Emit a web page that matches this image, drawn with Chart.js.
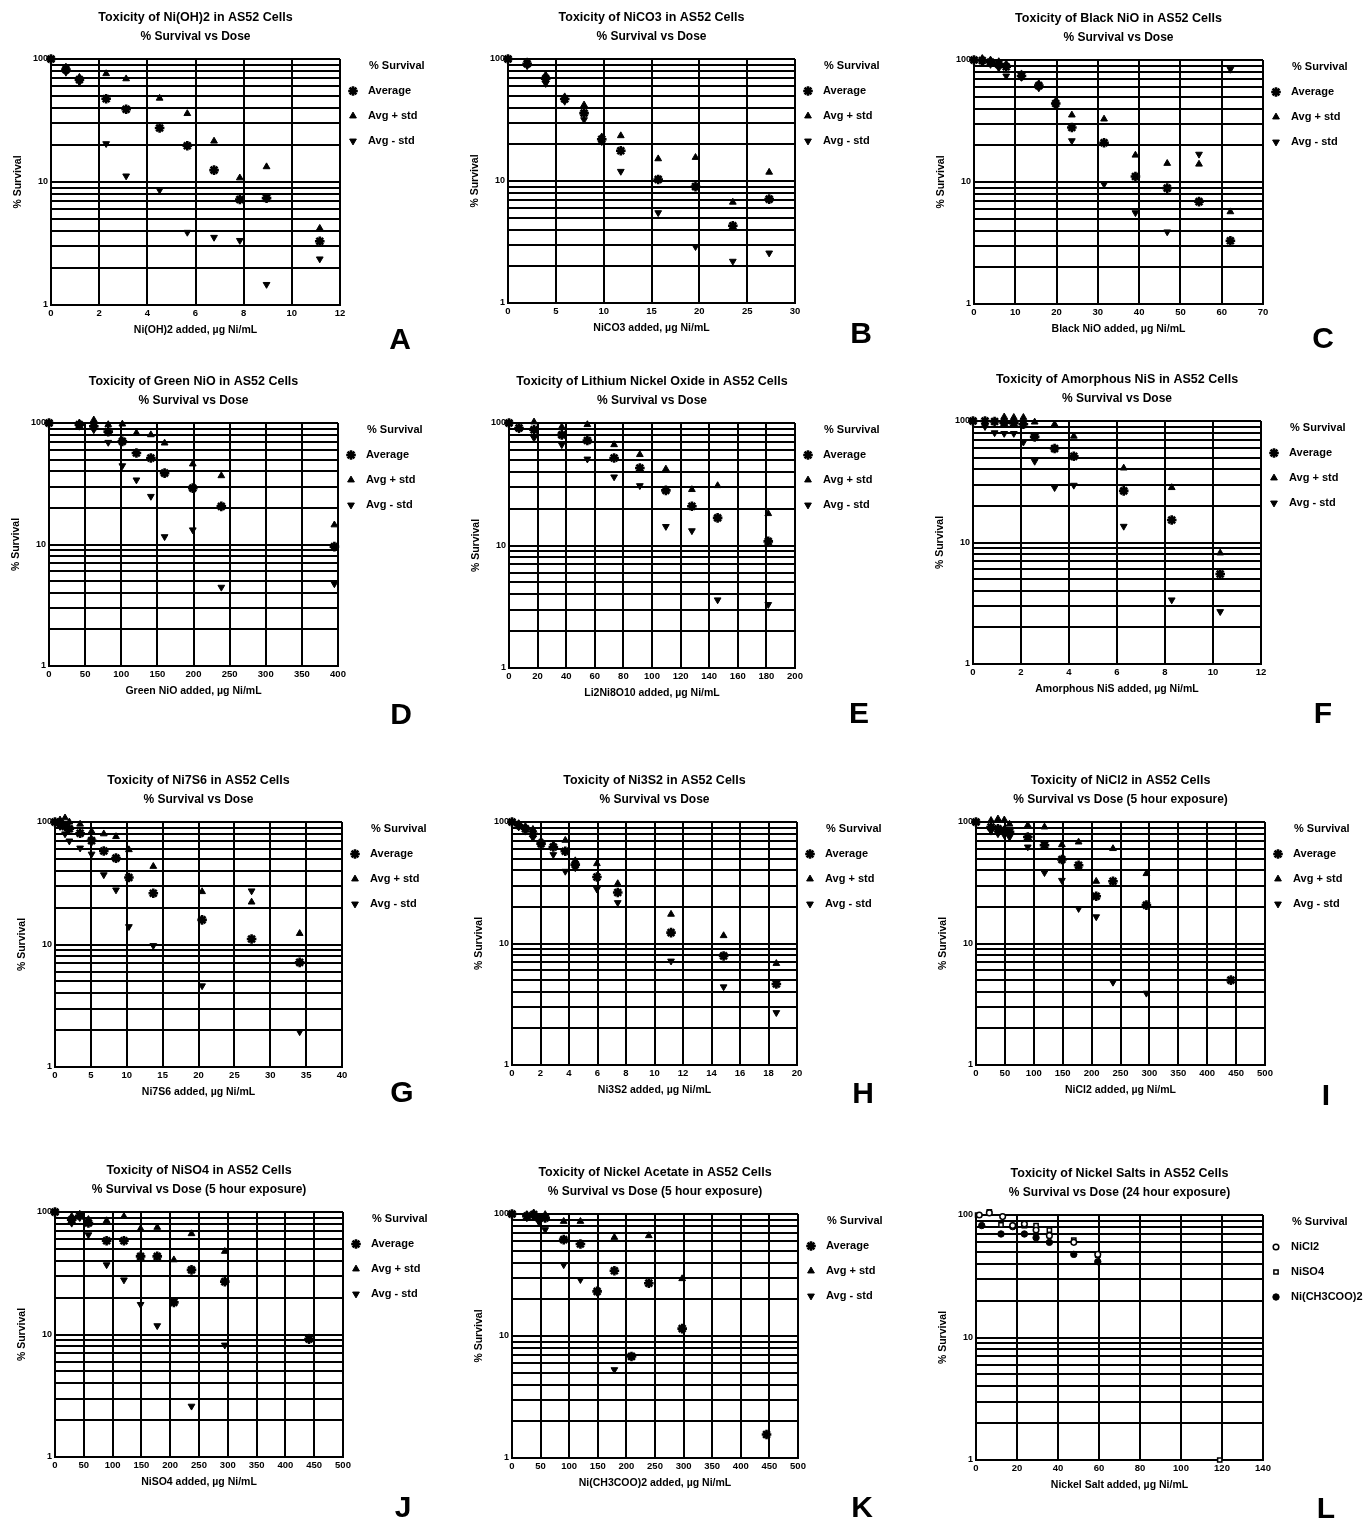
<!DOCTYPE html>
<html>
<head>
<meta charset="utf-8">
<title>Toxicity of nickel compounds in AS52 cells</title>
<script src="https://cdn.jsdelivr.net/npm/chart.js@4.4.1/dist/chart.umd.min.js"></script>
<style>
  html, body { margin: 0; padding: 0; background: #fff; }
  #page { position: relative; width: 1363px; height: 1523px; overflow: hidden; background: #fff; }
  #page canvas { position: absolute; }
  .tag { position: absolute; font: bold 30px 'Liberation Sans', Arial, sans-serif; line-height: 1;
         transform: translate(-50%, -50%); color: #000; }
</style>
</head>
<body>
<div id="page"></div>
<script>
// ---------- values ----------
const yTickLabels = [1, 10, 100];
const yGridValues = [1, 2, 3, 4, 5, 6, 7, 8, 9, 10, 20, 30, 40, 50, 60, 70, 80, 90, 100];
const xTickMax  = [12, 30, 70, 400, 200, 12, 40, 20, 500, 500, 500, 140];
const xTickStep = [2, 5, 10, 50, 20, 2, 5, 2, 50, 50, 50, 20];

// A: Ni(OH)2
const doseA = [0, 0.62, 1.18, 2.29, 3.12, 4.51, 5.66, 6.77, 7.84, 8.95, 11.16];
const avgA  = [100, 82, 68, 47.5, 39, 27.5, 19.7, 12.5, 7.2, 7.4, 3.3];
const hiA   = [100, 86, 71, 76, 69, 48, 36, 21.5, 10.8, 13.3, 4.2];
const loA   = [100, 78, 65, 20.5, 11.2, 8.6, 3.9, 3.55, 3.35, 1.47, 2.37];

// B: NiCO3
const doseB = [0, 2.0, 3.94, 5.93, 7.95, 9.8, 11.79, 15.7, 19.6, 23.5, 27.3];
const avgB  = [100, 91.5, 69, 47, 36, 22, 17.7, 10.3, 9.0, 4.3, 7.1];
const hiB   = [100, 95, 74, 49, 42, 23, 23.5, 15.2, 15.6, 6.7, 11.8];
const loB   = [100, 88, 63, 45, 31.8, 21, 12, 5.5, 2.9, 2.2, 2.57];

// C: black NiO
const doseC = [0, 2, 4, 6, 7.8, 11.5, 15.7, 19.8, 23.7, 31.5, 39.1, 46.8, 54.5, 62.1];
const avgC  = [100, 99, 96, 92, 88, 74, 61.6, 44, 28, 21, 11.1, 8.9, 6.9, 3.3];
const hiC   = [100, 103, 100, 97, 93, 77, 64, 46, 35.4, 32.8, 16.6, 14.2, 14, 5.7];
const loC   = [100, 95, 92, 86, 74, 72, 59, 42, 21.8, 9.6, 5.6, 3.9, 16.9, 83.9];

// D: green NiO
const doseD = [0, 42, 62, 82, 101.5, 121, 141, 160, 199, 238.5, 395];
const avgD  = [100, 97, 94, 85, 70.6, 56.6, 51.5, 38.7, 29.1, 20.6, 9.6];
const hiD   = [100, 100, 106, 97, 98, 82.7, 80, 68.4, 46, 36.8, 14.5];
const loD   = [100, 94, 88, 69.3, 44.5, 34, 24.9, 11.6, 13.2, 4.45, 4.75];

// E: lithium nickel oxide
const doseE = [0, 7, 17.5, 36.9, 54.8, 73.5, 91.5, 109.7, 127.9, 145.9, 181.3];
const avgE  = [100, 91, 88, 80, 72, 51.8, 42.9, 28.2, 20.9, 16.8, 10.8];
const hiE   = [100, 93, 102, 93, 97, 66.5, 55.2, 42.1, 28.6, 30.8, 18.2];
const loE   = [100, 89, 75.5, 66.5, 50.8, 36.3, 30.8, 14.3, 13.2, 3.6, 3.3];

// F: amorphous NiS
const doseF = [0, 0.5, 0.9, 1.3, 1.7, 2.1, 2.57, 3.4, 4.2, 6.28, 8.28, 10.3];
const avgF  = [100, 100, 99, 97, 96, 94, 74, 59.3, 51.2, 26.6, 15.3, 5.5];
const hiF   = [100, 112, 110, 108, 107, 107, 98, 94, 75, 41, 28.3, 8.2];
const loF   = [100, 90, 80, 79, 79, 67, 46.6, 28.3, 29.6, 13.6, 3.37, 2.7];

// G: Ni7S6
const doseG = [0, 0.7, 1.4, 2, 3.5, 5.1, 6.8, 8.5, 10.3, 13.7, 20.5, 27.4, 34.1];
const avgG  = [100, 98, 92, 88, 81, 70.4, 58, 50.7, 35.2, 26.2, 15.9, 11.1, 7.15];
const hiG   = [100, 104, 108, 100, 96, 84, 80, 76, 59.4, 43.4, 27, 22.2, 12.3];
const loG   = [100, 92, 80, 70, 61.3, 54.7, 37.1, 27.9, 14, 9.8, 4.6, 27.4, 1.94];

// H: Ni3S2
const doseH = [0, 0.47, 0.94, 1.47, 2.04, 2.9, 3.74, 4.44, 5.96, 7.42, 11.16, 14.85, 18.55];
const avgH  = [100, 94, 88, 80, 66.4, 62.3, 57.4, 44.6, 35.3, 26.3, 12.3, 7.9, 4.64];
const hiH   = [100, 97, 92, 87, 70, 65, 70.7, 48, 45.4, 31.1, 17.4, 11.6, 6.85];
const loH   = [100, 91, 84, 74, 64, 53.9, 39.3, 42, 28, 21.7, 7.17, 4.4, 2.7];

// I: NiCl2, 5 h
const doseI = [0, 26, 38, 49, 58, 89.6, 118.5, 148.6, 177.5, 208, 237, 294.8, 441];
const avgI  = [100, 91, 88, 85, 83, 75.3, 64.3, 49.1, 44, 24.5, 32.5, 20.7, 5.0];
const hiI   = [100, 103, 106, 104, 96, 94, 91, 65, 68.4, 32.5, 60.4, 37.6, null];
const loI   = [100, 84, 80, 78, 75, 62.3, 38.3, 33.1, 19.4, 16.6, 4.8, 3.9, null];

// J: NiSO4, 5 h
const doseJ = [0, 29, 43, 58, 89.6, 119.7, 148.6, 177.5, 206.4, 237, 294.8, 441];
const avgJ  = [100, 86.5, 93.3, 81.3, 58.2, 58.2, 43.4, 43.4, 18.3, 33.7, 27, 9.2];
const hiJ   = [100, 92, 96, 87, 84.9, 92, 73, 74.9, 40.7, 66.5, 47.7, 9.4];
const loJ   = [100, 81, 90, 65.2, 37.1, 27.9, 17.6, 11.8, null, 2.6, 8.2, 9.0];

// K: nickel acetate, 5 h
const doseK = [0, 26, 38, 47, 58, 90.4, 119.6, 148.8, 179, 208.9, 239.2, 297.5, 445];
const avgK  = [100, 96, 99, 93, 93, 61.6, 56.8, 23.2, 34.3, 6.8, 27.1, 11.5, 1.56];
const hiK   = [100, 99, 102, 112, 99, 87, 87, null, 64.3, null, 66.4, 29.5, null];
const loK   = [100, 93, 95, 86, 74.4, 38.4, 29, null, 5.3, null, null, null, null];

// L: nickel salts, 24 h
const doseL_NiCl2 = [1.6, 6.5, 13, 17.9, 23.6, 29.3, 35.8, 47.7, 59.4];
const survL_NiCl2 = [100, 104, 97, 82, 84.5, 75.4, 67.8, 59.8, 47.7];
const doseL_NiSO4 = [0.8, 6.5, 12.2, 17.9, 23.6, 29.3, 35.8, 47.7, 59.4, 118.9];
const survL_NiSO4 = [100, 106, 83, 82, 82, 82, 75.4, 62.5, 47, 1.0];
const doseL_NiAc  = [2.8, 12.2, 17.9, 23.6, 29.3, 35.8, 47.7, 59.4];
const survL_NiAc  = [82, 70, 80.3, 70, 65.3, 59.8, 47.7, 41.6];

// ---------- page layout (plot rectangles and panel letters) ----------
const FONT = "'Liberation Sans Narrow', 'Liberation Sans', Arial, sans-serif";
const AXIS_W = 46, TOP_H = 59, AXIS_H = 40, RIGHT_PAD = 100;
const frames = [
  { L: 51,  R: 340,  T: 59,   B: 305,  tag: [400, 339] },
  { L: 508, R: 795,  T: 59,   B: 303,  tag: [861, 333] },
  { L: 974, R: 1263, T: 60,   B: 304,  tag: [1323, 338] },
  { L: 49,  R: 338,  T: 423,  B: 666,  tag: [401, 714] },
  { L: 509, R: 795,  T: 423,  B: 668,  tag: [859, 713] },
  { L: 973, R: 1261, T: 421,  B: 664,  tag: [1323, 713] },
  { L: 55,  R: 342,  T: 822,  B: 1067, tag: [402, 1092] },
  { L: 512, R: 797,  T: 822,  B: 1065, tag: [863, 1093] },
  { L: 976, R: 1265, T: 822,  B: 1065, tag: [1326, 1095] },
  { L: 55,  R: 343,  T: 1212, B: 1457, tag: [403, 1507] },
  { L: 512, R: 798,  T: 1214, B: 1458, tag: [862, 1507] },
  { L: 976, R: 1263, T: 1215, B: 1460, tag: [1326, 1508] }
];

// ---------- marker styles ----------
const avgStyle = { label: 'Average', pointStyle: 'star', pointRadius: 4.8, pointRotation: 0,
  pointBorderWidth: 2.6, pointBackgroundColor: '#000', pointBorderColor: '#000' };
const hiStyle = { label: 'Avg + std', pointStyle: 'triangle', pointRadius: 3.9, pointRotation: 0,
  pointBorderWidth: 1, pointBackgroundColor: '#000', pointBorderColor: '#000' };
const loStyle = { label: 'Avg - std', pointStyle: 'triangle', pointRadius: 3.9, pointRotation: 180,
  pointBorderWidth: 1, pointBackgroundColor: '#000', pointBorderColor: '#000' };

function pts(xs, ys) {
  const out = [];
  xs.forEach((x, i) => { if (ys[i] != null) out.push({ x: x, y: ys[i] }); });
  return out;
}
function triple(dose, avg, hi, lo) {
  return [
    Object.assign({ data: pts(dose, avg) }, avgStyle),
    Object.assign({ data: pts(dose, hi) }, hiStyle),
    Object.assign({ data: pts(dose, lo) }, loStyle)
  ];
}

const SUB = '% Survival vs Dose';
const SUB5 = '% Survival vs Dose (5 hour exposure)';
const panels = [
  { letter: 'A', title: 'Toxicity of Ni(OH)2 in AS52 Cells', sub: SUB, xTitle: 'Ni(OH)2 added, µg Ni/mL', datasets: triple(doseA, avgA, hiA, loA) },
  { letter: 'B', title: 'Toxicity of NiCO3 in AS52 Cells', sub: SUB, xTitle: 'NiCO3 added, µg Ni/mL', datasets: triple(doseB, avgB, hiB, loB) },
  { letter: 'C', title: 'Toxicity of Black NiO in AS52 Cells', sub: SUB, xTitle: 'Black NiO added, µg Ni/mL', datasets: triple(doseC, avgC, hiC, loC) },
  { letter: 'D', title: 'Toxicity of Green NiO in AS52 Cells', sub: SUB, xTitle: 'Green NiO added, µg Ni/mL', datasets: triple(doseD, avgD, hiD, loD) },
  { letter: 'E', title: 'Toxicity of Lithium Nickel Oxide in AS52 Cells', sub: SUB, xTitle: 'Li2Ni8O10 added, µg Ni/mL', datasets: triple(doseE, avgE, hiE, loE) },
  { letter: 'F', title: 'Toxicity of Amorphous NiS in AS52 Cells', sub: SUB, xTitle: 'Amorphous NiS added, µg Ni/mL', datasets: triple(doseF, avgF, hiF, loF) },
  { letter: 'G', title: 'Toxicity of Ni7S6 in AS52 Cells', sub: SUB, xTitle: 'Ni7S6 added, µg Ni/mL', datasets: triple(doseG, avgG, hiG, loG) },
  { letter: 'H', title: 'Toxicity of Ni3S2 in AS52 Cells', sub: SUB, xTitle: 'Ni3S2 added, µg Ni/mL', datasets: triple(doseH, avgH, hiH, loH) },
  { letter: 'I', title: 'Toxicity of NiCl2 in AS52 Cells', sub: SUB5, xTitle: 'NiCl2 added, µg Ni/mL', datasets: triple(doseI, avgI, hiI, loI) },
  { letter: 'J', title: 'Toxicity of NiSO4 in AS52 Cells', sub: SUB5, xTitle: 'NiSO4 added, µg Ni/mL', datasets: triple(doseJ, avgJ, hiJ, loJ) },
  { letter: 'K', title: 'Toxicity of Nickel Acetate in AS52 Cells', sub: SUB5, xTitle: 'Ni(CH3COO)2 added, µg Ni/mL', datasets: triple(doseK, avgK, hiK, loK) },
  { letter: 'L', title: 'Toxicity of Nickel Salts in AS52 Cells', sub: '% Survival vs Dose (24 hour exposure)', xTitle: 'Nickel Salt added, µg Ni/mL',
    datasets: [
      { label: 'NiCl2', data: pts(doseL_NiCl2, survL_NiCl2), pointStyle: 'circle', pointRadius: 2.8, pointRotation: 0,
        pointBorderWidth: 1.5, pointBackgroundColor: '#fff', pointBorderColor: '#000' },
      { label: 'NiSO4', data: pts(doseL_NiSO4, survL_NiSO4), pointStyle: 'rect', pointRadius: 3, pointRotation: 0,
        pointBorderWidth: 1.5, pointBackgroundColor: '#fff', pointBorderColor: '#000' },
      { label: 'Ni(CH3COO)2', data: pts(doseL_NiAc, survL_NiAc), pointStyle: 'circle', pointRadius: 3.2, pointRotation: 0,
        pointBorderWidth: 1, pointBackgroundColor: '#000', pointBorderColor: '#000' }
    ] }
];

// ---------- legend drawn beside the plot area ----------
const sideLegend = {
  id: 'sideLegend',
  afterDraw(chart, args, opts) {
    const { ctx, chartArea } = chart;
    const x0 = chartArea.right, y0 = chartArea.top;
    ctx.save();
    ctx.textBaseline = 'middle';
    ctx.textAlign = 'left';
    ctx.fillStyle = '#000';
    ctx.font = 'bold 11px ' + FONT;
    ctx.fillText(opts.title, x0 + 29, y0 + 7);
    chart.data.datasets.forEach((ds, i) => {
      const y = y0 + 32 + i * 25;
      ctx.fillStyle = ds.pointBackgroundColor;
      ctx.strokeStyle = ds.pointBorderColor;
      ctx.lineWidth = ds.pointBorderWidth;
      Chart.helpers.drawPoint(ctx, {
        pointStyle: ds.pointStyle, rotation: ds.pointRotation, radius: ds.pointRadius,
        borderWidth: ds.pointBorderWidth
      }, x0 + 13, y);
      ctx.fillStyle = '#000';
      ctx.font = 'bold 11px ' + FONT;
      ctx.fillText(ds.label, x0 + 28, y);
    });
    ctx.restore();
  }
};

Chart.defaults.font.family = FONT;
Chart.defaults.font.weight = 'bold';
Chart.defaults.color = '#000';

const page = document.getElementById('page');
panels.forEach((p, i) => {
  const f = frames[i];
  const canvas = document.createElement('canvas');
  const w = (f.R - f.L) + AXIS_W + RIGHT_PAD;
  const h = (f.B - f.T) + TOP_H + AXIS_H;
  canvas.width = w; canvas.height = h;
  canvas.style.left = (f.L - AXIS_W) + 'px';
  canvas.style.top = (f.T - TOP_H) + 'px';
  canvas.style.width = w + 'px'; canvas.style.height = h + 'px';
  page.appendChild(canvas);

  const tag = document.createElement('div');
  tag.className = 'tag';
  tag.textContent = p.letter;
  tag.style.left = f.tag[0] + 'px';
  tag.style.top = f.tag[1] + 'px';
  page.appendChild(tag);

  p.datasets.forEach(ds => { ds.showLine = false; ds.clip = false; });

  new Chart(canvas, {
    type: 'scatter',
    data: { datasets: p.datasets },
    options: {
      responsive: false,
      animation: false,
      events: [],
      devicePixelRatio: 1,
      layout: { padding: { left: 0, top: 0, right: RIGHT_PAD, bottom: 0 } },
      plugins: {
        legend: { display: false },
        tooltip: { enabled: false },
        title: { display: true, text: p.title, fullSize: false, color: '#000',
          font: { size: 12.5, weight: 'bold', lineHeight: '14px' }, padding: { top: 11, bottom: 5 } },
        subtitle: { display: true, text: p.sub, fullSize: false, color: '#000',
          font: { size: 12, weight: 'bold', lineHeight: '14px' }, padding: { top: 0, bottom: 15 } },
        sideLegend: { title: '% Survival' }
      },
      scales: {
        x: {
          type: 'linear', position: 'bottom', min: 0, max: xTickMax[i],
          afterFit: s => { s.height = AXIS_H; },
          ticks: { stepSize: xTickStep[i], autoSkip: false, maxRotation: 0, minRotation: 0, padding: 3,
            color: '#000', font: { size: 9.5, weight: 'bold' } },
          grid: { color: '#000', lineWidth: 2, drawTicks: false },
          border: { display: true, color: '#000', width: 2 },
          title: { display: true, text: p.xTitle, color: '#000',
            font: { size: 10.5, weight: 'bold', lineHeight: '12px' }, padding: { top: 0, bottom: 9 } }
        },
        y: {
          type: 'logarithmic', position: 'left', min: 1, max: 100,
          afterFit: s => { s.width = AXIS_W; },
          afterBuildTicks: s => { s.ticks = yGridValues.map(v => ({ value: v, major: yTickLabels.includes(v) })); },
          ticks: { autoSkip: false, padding: 3, color: '#000', font: { size: 9, weight: 'bold' },
            callback: v => (yTickLabels.includes(v) ? String(v) : '') },
          grid: { color: '#000', lineWidth: 2, drawTicks: false },
          border: { display: true, color: '#000', width: 2 },
          title: { display: true, text: '% Survival', color: '#000',
            font: { size: 10.5, weight: 'bold', lineHeight: '12px' }, padding: { top: 7, bottom: 0 } }
        }
      }
    },
    plugins: [sideLegend]
  });
});
</script>
</body>
</html>
